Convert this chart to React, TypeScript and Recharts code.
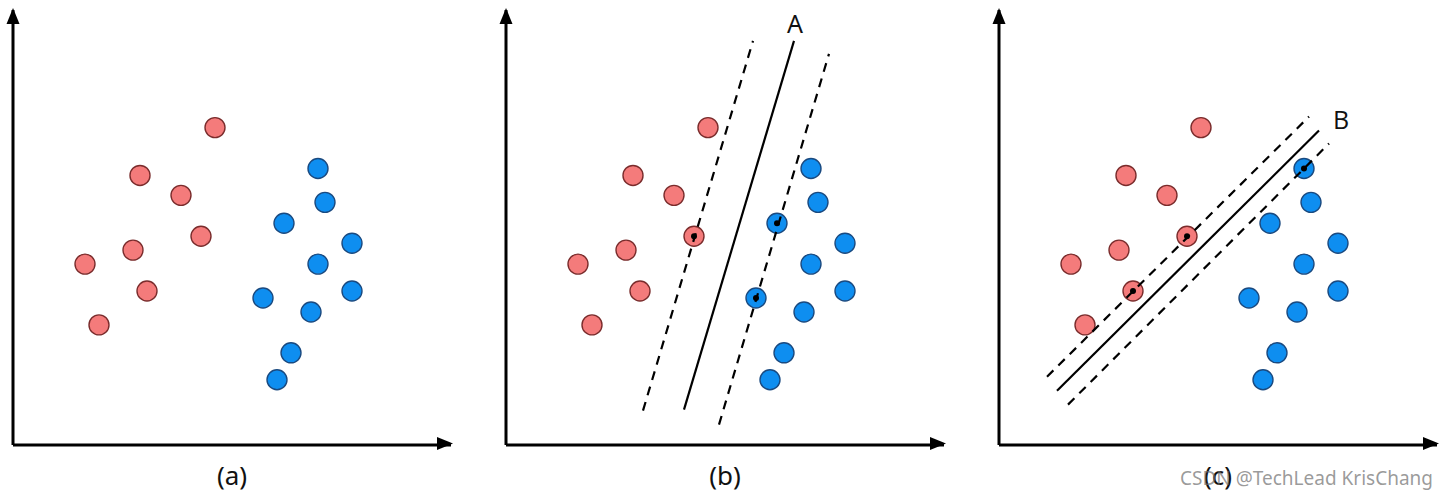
import { ScatterChart, Scatter, XAxis, YAxis } from "recharts";

// one unit = 10px inside every panel; the three panels share the same points
const X_MAX = 43.8;
const Y_MAX = 43.5;

const redX = [20.2, 12.7, 16.8, 18.8, 12.0, 7.2, 13.4, 8.6];
const redY = [31.7, 26.9, 24.9, 20.8, 19.4, 18.0, 15.3, 11.9];
const blueX = [30.5, 31.2, 27.1, 33.9, 30.5, 33.9, 25.0, 29.8, 27.8, 26.4];
const blueY = [27.6, 24.2, 22.1, 20.1, 18.0, 15.3, 14.6, 13.2, 9.1, 6.4];

const panelTitles = ["(a)", "(b)", "(c)"];

// hyperplane A (panel b) and its margins
const lineAX = [17.8, 28.8];
const lineAY = [3.4, 40.4];
const marginALeftX = [13.7, 24.7];
const marginALeftY = [3.3, 40.4];
const marginARightX = [21.3, 32.3];
const marginARightY = [1.9, 39.1];

// hyperplane B (panel c) and its margins
const lineBX = [5.8, 32.0];
const lineBY = [5.3, 31.4];
const marginBUpX = [4.8, 31.0];
const marginBUpY = [6.7, 32.8];
const marginBLowX = [6.9, 33.0];
const marginBLowY = [3.9, 30.1];

// support vectors (indexes into the red / blue lists)
const supportRedA = [3];
const supportBlueA = [2, 6];
const supportRedB = [3, 6];
const supportBlueB = [0];

const zip = (xs: number[], ys: number[]) => xs.map((x, i) => ({ x, y: ys[i] }));

const redPts = zip(redX, redY);
const bluePts = zip(blueX, blueY);

const RED_FILL = "#F47B7B";
const RED_STROKE = "#7A2C2C";
const BLUE_FILL = "#0E8EF0";
const BLUE_STROKE = "#1A4A80";

const circle = (fill: string, stroke: string) => (p: any) => (
  <circle cx={p.cx} cy={p.cy} r={10} fill={fill} stroke={stroke} strokeWidth={1.4} />
);
const blackDot = (p: any) => <circle cx={p.cx} cy={p.cy} r={3} fill="#000" />;
const nothing = () => <g />;
const arrowRight = (p: any) => (
  <polygon points={`${p.cx + 2},${p.cy} ${p.cx - 14},${p.cy - 6.5} ${p.cx - 14},${p.cy + 6.5}`} fill="#000" />
);
const arrowUp = (p: any) => (
  <polygon points={`${p.cx},${p.cy - 2} ${p.cx - 6.5},${p.cy + 14} ${p.cx + 6.5},${p.cy + 14}`} fill="#000" />
);

type LineDef = { xs: number[]; ys: number[]; dashed: boolean };
type MarkDef = { text: string; x: number; y: number; font: string };

function Panel({
  left,
  title,
  lines,
  supportRed,
  supportBlue,
  mark,
}: {
  left: number;
  title: string;
  lines: LineDef[];
  supportRed: number[];
  supportBlue: number[];
  mark?: MarkDef;
}) {
  const supports = [...supportRed.map((i) => redPts[i]), ...supportBlue.map((i) => bluePts[i])];
  return (
    <div style={{ position: "absolute", left, top: 0 }}>
      <ScatterChart width={493} height={500} margin={{ top: 10, right: 42, bottom: 0, left: 13 }}>
        <XAxis
          type="number"
          dataKey="x"
          domain={[0, X_MAX]}
          height={55}
          tick={false}
          tickLine={false}
          axisLine={{ stroke: "#000", strokeWidth: 3 }}
          label={{
            value: title,
            position: "insideBottom",
            offset: 15,
            fontSize: 26,
            fill: "#111",
            fontFamily: "Noto Sans",
          }}
        />
        <YAxis type="number" dataKey="y" domain={[0, Y_MAX]} hide />
        {/* vertical axis line */}
        <Scatter
          data={[
            { x: 0, y: -0.15 },
            { x: 0, y: Y_MAX },
          ]}
          shape={nothing}
          line={{ stroke: "#000", strokeWidth: 3 }}
          isAnimationActive={false}
        />
        <Scatter data={[{ x: X_MAX, y: 0 }]} shape={arrowRight} isAnimationActive={false} />
        <Scatter data={[{ x: 0, y: Y_MAX }]} shape={arrowUp} isAnimationActive={false} />
        <Scatter data={redPts} shape={circle(RED_FILL, RED_STROKE)} isAnimationActive={false} />
        <Scatter data={bluePts} shape={circle(BLUE_FILL, BLUE_STROKE)} isAnimationActive={false} />
        {lines.map((l, i) => (
          <Scatter
            key={i}
            data={zip(l.xs, l.ys)}
            shape={nothing}
            line={{ stroke: "#000", strokeWidth: 2.2, strokeDasharray: l.dashed ? "9 7" : undefined }}
            isAnimationActive={false}
          />
        ))}
        {supports.length > 0 && <Scatter data={supports} shape={blackDot} isAnimationActive={false} />}
        {mark && (
          <Scatter
            data={[{ x: mark.x, y: mark.y }]}
            shape={(p: any) => (
              <text
                x={p.cx}
                y={p.cy}
                textAnchor="middle"
                dominantBaseline="central"
                fontSize={25}
                fontFamily={mark.font}
                fill="#111"
              >
                {mark.text}
              </text>
            )}
            isAnimationActive={false}
          />
        )}
      </ScatterChart>
    </div>
  );
}

export default function App() {
  return (
    <div style={{ position: "absolute", left: 0, top: 0, width: 1446, height: 500, background: "#fff" }}>
      <Panel left={0} title={panelTitles[0]} lines={[]} supportRed={[]} supportBlue={[]} />
      <Panel
        left={493}
        title={panelTitles[1]}
        lines={[
          { xs: lineAX, ys: lineAY, dashed: false },
          { xs: marginALeftX, ys: marginALeftY, dashed: true },
          { xs: marginARightX, ys: marginARightY, dashed: true },
        ]}
        supportRed={supportRedA}
        supportBlue={supportBlueA}
        mark={{ text: "A", x: 28.9, y: 42.2, font: "Noto Sans" }}
      />
      <Panel
        left={986}
        title={panelTitles[2]}
        lines={[
          { xs: lineBX, ys: lineBY, dashed: false },
          { xs: marginBUpX, ys: marginBUpY, dashed: true },
          { xs: marginBLowX, ys: marginBLowY, dashed: true },
        ]}
        supportRed={supportRedB}
        supportBlue={supportBlueB}
        mark={{ text: "B", x: 34.2, y: 32.6, font: "Open Sans" }}
      />
      <div
        style={{
          position: "absolute",
          left: 1180,
          top: 469,
          fontSize: 19,
          lineHeight: "19px",
          fontFamily: "Noto Sans",
          color: "rgba(110,110,110,0.7)",
          whiteSpace: "nowrap",
        }}
      >
        CSDN @TechLead KrisChang
      </div>
    </div>
  );
}
